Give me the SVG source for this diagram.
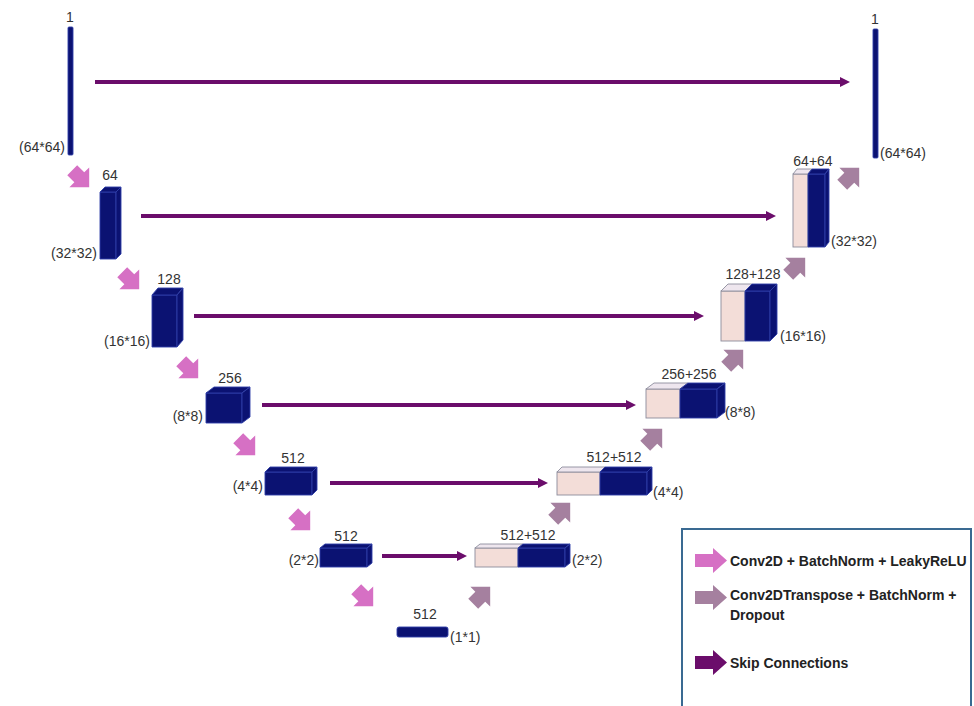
<svg xmlns="http://www.w3.org/2000/svg" xmlns:xlink="http://www.w3.org/1999/xlink" width="974" height="706" viewBox="0 0 974 706">
<defs>
<style>
.lbl{font-family:"Liberation Sans",Arial,sans-serif;font-size:14px;fill:#333;}
.mid{text-anchor:middle;}
.end{text-anchor:end;}
.leg{font-family:"Liberation Sans",Arial,sans-serif;font-size:14px;font-weight:bold;fill:#222;}
.navy{fill:#0b1272;stroke:#3040a8;stroke-width:0.9;stroke-linejoin:round;}
.pink{fill:#f3ddd8;stroke:#8c8c9c;stroke-width:0.9;}
.pinktop{fill:#eee6ee;stroke:#8c8c9c;stroke-width:0.9;stroke-linejoin:round;}
.skip{stroke:#6b0d6b;stroke-width:4;fill:none;}
.down{fill:#d670c4;}
.up{fill:#a5809f;}
</style>
<path id="blk" d="M-11,-7 H-1 V-14 L13,0 L-1,14 V7 H-11 Z"/>
<path id="legarrow" d="M0,6 H18 V0 L32,12.5 L18,25 V19 H0 Z"/>
<marker id="ah" viewBox="0 0 10 10" refX="2" refY="5" markerWidth="10" markerHeight="10" markerUnits="userSpaceOnUse" orient="auto">
<path d="M0,0 L10,5 L0,10 Z" fill="#6b0d6b"/>
</marker>
</defs>
<rect width="974" height="706" fill="#ffffff"/>

<g id="connectors">
<line class="skip" x1="95" y1="82" x2="842" y2="82" marker-end="url(#ah)"/>
<line class="skip" x1="141" y1="216" x2="768" y2="216" marker-end="url(#ah)"/>
<line class="skip" x1="194" y1="316" x2="696" y2="316" marker-end="url(#ah)"/>
<line class="skip" x1="262" y1="405" x2="628" y2="405" marker-end="url(#ah)"/>
<line class="skip" x1="330" y1="483" x2="540" y2="483" marker-end="url(#ah)"/>
<line class="skip" x1="382" y1="556" x2="459" y2="556" marker-end="url(#ah)"/>
<use href="#blk" class="down" transform="translate(80,178) rotate(45)"/>
<use href="#blk" class="down" transform="translate(130,280) rotate(45)"/>
<use href="#blk" class="down" transform="translate(189,369) rotate(45)"/>
<use href="#blk" class="down" transform="translate(246,446) rotate(45)"/>
<use href="#blk" class="down" transform="translate(301,521) rotate(45)"/>
<use href="#blk" class="down" transform="translate(364,597) rotate(45)"/>
<use href="#blk" class="up" transform="translate(481,596) rotate(-45)"/>
<use href="#blk" class="up" transform="translate(561,512) rotate(-45)"/>
<use href="#blk" class="up" transform="translate(653,438) rotate(-45)"/>
<use href="#blk" class="up" transform="translate(734,359) rotate(-45)"/>
<use href="#blk" class="up" transform="translate(796,267) rotate(-45)"/>
<use href="#blk" class="up" transform="translate(850,177) rotate(-45)"/>
</g>

<g id="enc0">
<rect class="navy" x="68" y="27" width="5" height="128" rx="1"/>
<text class="lbl mid" x="70" y="22">1</text>
<text class="lbl end" x="65" y="152">(64*64)</text>
</g>
<g id="enc1">
<rect class="navy" x="100" y="192" width="16" height="67"/>
<polygon class="navy" points="100,192 105,187 121,187 116,192"/>
<polygon class="navy" points="116,192 121,187 121,254 116,259"/>
<text class="lbl mid" x="110" y="180">64</text>
<text class="lbl end" x="97" y="258">(32*32)</text>
</g>
<g id="enc2">
<rect class="navy" x="152" y="295" width="25" height="52"/>
<polygon class="navy" points="152,295 158,288 183,288 177,295"/>
<polygon class="navy" points="177,295 183,288 183,340 177,347"/>
<text class="lbl mid" x="169" y="284">128</text>
<text class="lbl end" x="150" y="346">(16*16)</text>
</g>
<g id="enc3">
<rect class="navy" x="206" y="393" width="36" height="30"/>
<polygon class="navy" points="206,393 214,387 250,387 242,393"/>
<polygon class="navy" points="242,393 250,387 250,417 242,423"/>
<text class="lbl mid" x="230" y="383">256</text>
<text class="lbl end" x="203" y="421">(8*8)</text>
</g>
<g id="enc4">
<rect class="navy" x="265" y="472" width="47" height="23"/>
<polygon class="navy" points="265,472 270,467 317,467 312,472"/>
<polygon class="navy" points="312,472 317,467 317,490 312,495"/>
<text class="lbl mid" x="293" y="463">512</text>
<text class="lbl end" x="263" y="491">(4*4)</text>
</g>
<g id="enc5">
<rect class="navy" x="320" y="548" width="47" height="19"/>
<polygon class="navy" points="320,548 325,544 372,544 367,548"/>
<polygon class="navy" points="367,548 372,544 372,563 367,567"/>
<text class="lbl mid" x="346" y="541">512</text>
<text class="lbl end" x="319" y="565">(2*2)</text>
</g>
<g id="bottleneck">
<rect class="navy" x="397" y="627" width="51" height="10" rx="2"/>
<text class="lbl mid" x="425" y="619">512</text>
<text class="lbl" x="450" y="642">(1*1)</text>
</g>

<g id="dec5">
<rect class="pink" x="475" y="548" width="43" height="19"/>
<rect class="navy" x="518" y="548" width="47" height="19"/>
<polygon class="pinktop" points="475,548 480,544 523,544 518,548"/>
<polygon class="navy" points="518,548 523,544 570,544 565,548"/>
<polygon class="navy" points="565,548 570,544 570,563 565,567"/>
<text class="lbl mid" x="528" y="540">512+512</text>
<text class="lbl" x="572" y="565">(2*2)</text>
</g>
<g id="dec4">
<rect class="pink" x="557" y="472" width="43" height="23"/>
<rect class="navy" x="600" y="472" width="47" height="23"/>
<polygon class="pinktop" points="557,472 562,467 605,467 600,472"/>
<polygon class="navy" points="600,472 605,467 652,467 647,472"/>
<polygon class="navy" points="647,472 652,467 652,490 647,495"/>
<text class="lbl mid" x="614" y="462">512+512</text>
<text class="lbl" x="653" y="497">(4*4)</text>
</g>
<g id="dec3">
<rect class="pink" x="646" y="389" width="34" height="29"/>
<rect class="navy" x="680" y="389" width="37" height="29"/>
<polygon class="pinktop" points="646,389 654,383 688,383 680,389"/>
<polygon class="navy" points="680,389 688,383 725,383 717,389"/>
<polygon class="navy" points="717,389 725,383 725,412 717,418"/>
<text class="lbl mid" x="689" y="379">256+256</text>
<text class="lbl" x="725" y="417">(8*8)</text>
</g>
<g id="dec2">
<rect class="pink" x="721" y="291" width="24" height="50"/>
<rect class="navy" x="745" y="291" width="25" height="50"/>
<polygon class="pinktop" points="721,291 728,284 752,284 745,291"/>
<polygon class="navy" points="745,291 752,284 777,284 770,291"/>
<polygon class="navy" points="770,291 777,284 777,334 770,341"/>
<text class="lbl mid" x="753" y="279">128+128</text>
<text class="lbl" x="780" y="341">(16*16)</text>
</g>
<g id="dec1">
<rect class="pink" x="793" y="174" width="15" height="73"/>
<rect class="navy" x="808" y="174" width="17" height="73"/>
<polygon class="pinktop" points="793,174 797,169 812,169 808,174"/>
<polygon class="navy" points="808,174 812,169 829,169 825,174"/>
<polygon class="navy" points="825,174 829,169 829,242 825,247"/>
<text class="lbl mid" x="813" y="166">64+64</text>
<text class="lbl" x="831" y="246">(32*32)</text>
</g>
<g id="dec0">
<rect class="navy" x="873" y="29" width="5" height="129" rx="1"/>
<text class="lbl mid" x="875" y="24">1</text>
<text class="lbl" x="880" y="158">(64*64)</text>
</g>

<g id="legend">
<rect x="682" y="529" width="289" height="200" fill="#ffffff" stroke="#3a6a92" stroke-width="2"/>
<use href="#legarrow" x="695" y="548" fill="#d670c4"/>
<text class="leg" x="730" y="566">Conv2D + BatchNorm + LeakyReLU</text>
<use href="#legarrow" x="695" y="585" fill="#a5809f"/>
<text class="leg" x="730" y="600">Conv2DTranspose + BatchNorm +</text>
<text class="leg" x="730" y="620">Dropout</text>
<use href="#legarrow" x="695" y="650" fill="#6b0d6b"/>
<text class="leg" x="730" y="668">Skip Connections</text>
</g>
</svg>
